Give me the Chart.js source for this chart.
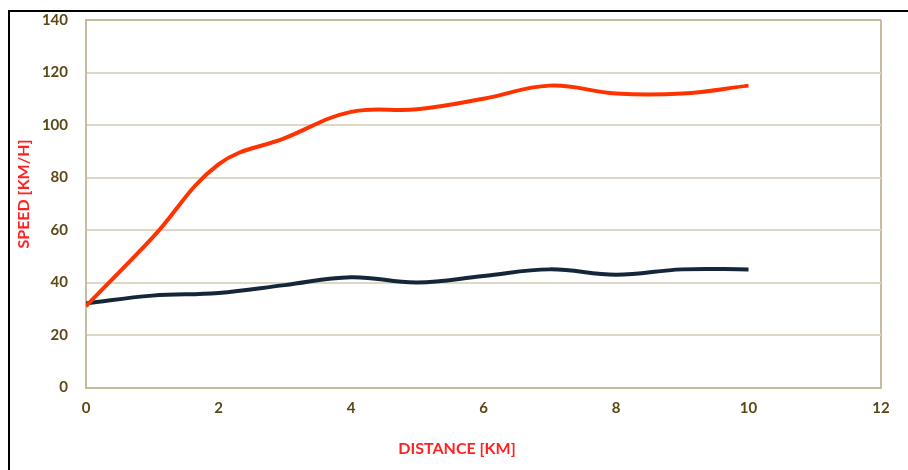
<!DOCTYPE html>
<html>
<head>
<meta charset="utf-8">
<script src="https://cdn.jsdelivr.net/npm/chart.js@4/dist/chart.umd.min.js"></script>
<style>
  html, body { margin: 0; padding: 0; background: #ffffff; }
  #wrap { position: relative; width: 908px; height: 470px; }
  #frame { position: absolute; left: 8px; top: 10px; right: 0; bottom: 0;
           border-top: 2px solid #000; border-left: 2px solid #000; pointer-events: none; }
</style>
</head>
<body>
<div id="wrap">
  <canvas id="c" width="908" height="470"></canvas>
  <div id="frame"></div>
</div>
<script>
const distances = [0, 1, 2, 3, 4, 5, 6, 7, 8, 9, 10];
const speedRed  = [31, 57, 85, 95, 105, 106, 110, 115, 112, 112, 115];
const speedBlue = [32, 35, 36, 39, 42, 40, 42.5, 45, 43, 45, 45];
const xTicks = [0, 2, 4, 6, 8, 10, 12];
const yTicks = [0, 20, 40, 60, 80, 100, 120, 140];
const xTitle = 'DISTANCE [KM]';
const yTitle = 'SPEED [KM/H]';

const toPts = arr => distances.map((d, i) => ({ x: d, y: arr[i] }));

const tickColor = '#5a4815';
const gridColor = '#ddd8c6';
const axisColor = '#c6bd9f';
const titleColor = '#ff2222';

const titlePlugin = {
  id: 'axisTitles',
  afterDraw(chart) {
    const ctx = chart.ctx;
    ctx.save();
    ctx.fillStyle = titleColor;
    ctx.font = 'bold 16px Lato';
    ctx.textAlign = 'center';
    ctx.textBaseline = 'middle';
    ctx.fillText(xTitle, 457, 449);
    ctx.translate(24, 194);
    ctx.rotate(-Math.PI / 2);
    ctx.fillText(yTitle, 0, 0);
    ctx.restore();
  }
};

new Chart(document.getElementById('c'), {
  type: 'line',
  data: {
    datasets: [
      { label: 'Red', data: toPts(speedRed), borderColor: '#ff3300', borderWidth: 4,
        pointRadius: 0, tension: 0.4, fill: false },
      { label: 'Blue', data: toPts(speedBlue), borderColor: '#14263a', borderWidth: 4,
        pointRadius: 0, tension: 0.4, fill: false }
    ]
  },
  options: {
    responsive: false,
    animation: false,
    devicePixelRatio: 1,
    layout: { padding: { left: 0, top: 20, right: 27, bottom: 0 } },
    plugins: { legend: { display: false }, tooltip: { enabled: false } },
    scales: {
      x: {
        type: 'linear', min: 0, max: 12,
        afterBuildTicks: s => { s.ticks = xTicks.map(v => ({ value: v })); },
        afterFit: s => { s.height = 82.5; s.paddingLeft = 0; s.paddingRight = 0; },
        ticks: { color: tickColor, font: { family: 'Lato', size: 15, weight: 'bold' }, padding: 12, maxRotation: 0 },
        grid: {
          drawTicks: false,
          lineWidth: 2,
          color: c => (c.tick && c.tick.value === 12) ? axisColor : 'rgba(0,0,0,0)'
        },
        border: { display: true, color: axisColor, width: 2 }
      },
      y: {
        type: 'linear', min: 0, max: 140,
        afterBuildTicks: s => { s.ticks = yTicks.map(v => ({ value: v })); },
        afterFit: s => { s.width = 86; s.paddingTop = 0; s.paddingBottom = 0; },
        ticks: { color: tickColor, font: { family: 'Lato', size: 15, weight: 'bold' }, padding: 18 },
        grid: {
          drawTicks: false,
          lineWidth: 2,
          color: c => (c.tick && c.tick.value === 140) ? axisColor : gridColor
        },
        border: { display: true, color: axisColor, width: 2 }
      }
    }
  },
  plugins: [titlePlugin]
});
</script>
</body>
</html>
